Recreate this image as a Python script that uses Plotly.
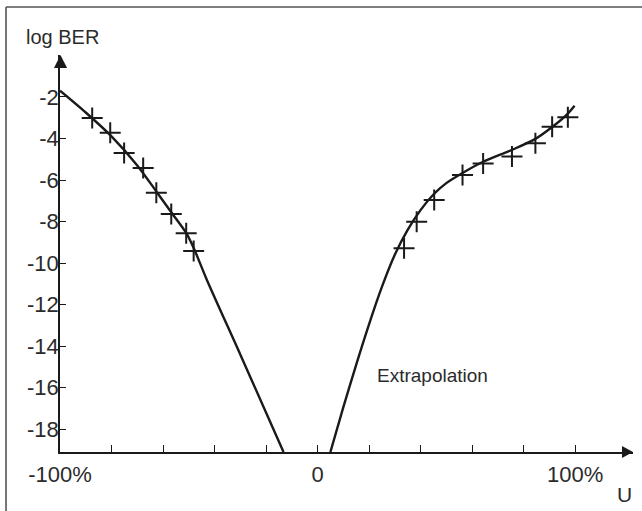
import plotly.graph_objects as go

# Fitted curves (U in %, log BER)
left_curve_u = [-100, -90, -80, -70, -62.6, -56.8, -51, -48, -43, -30, -20, -13.2]
left_curve_ber = [-1.7, -2.75, -3.9, -5.3, -6.55, -7.55, -8.55, -9.3, -10.8, -14.4, -17.2, -19.1]

right_curve_u = [5, 10, 15, 20, 25, 30, 35, 40, 45, 50, 56.3, 64.3, 75.5, 84.6, 91.1, 97.2, 99.8]
right_curve_ber = [-19.1, -16.95, -14.9, -12.95, -11.15, -9.6, -8.4, -7.45, -6.7, -6.15, -5.66, -5.12, -4.55, -4.02, -3.45, -2.8, -2.42]

# Measured points
left_meas_u = [-87.5, -80.5, -75.1, -67.7, -62.6, -56.8, -51.0, -48.1]
left_meas_ber = [-3.01, -3.73, -4.70, -5.42, -6.61, -7.64, -8.57, -9.42]

right_meas_u = [33.6, 38.5, 45.3, 56.3, 64.3, 75.5, 84.6, 91.1, 97.2]
right_meas_ber = [-9.29, -8.01, -6.96, -5.76, -5.20, -4.87, -4.23, -3.43, -2.98]

y_ticks = [-2, -4, -6, -8, -10, -12, -14, -16, -18]
y_tick_text = ["-2", "-4", "-6", "-8", "-10", "-12", "-14", "-16", "-18"]
x_ticks = [-100, -80, -60, -40, -20, 0, 20, 40, 60, 80, 100]
x_tick_text = ["-100%", "", "", "", "", "0", "", "", "", "", "100%"]

INK = "#1a1a1a"
TXT = "#2b2b2b"
FONT = "Liberation Sans, Arial, sans-serif"

fig = go.Figure()
for cu, cb in [(left_curve_u, left_curve_ber), (right_curve_u, right_curve_ber)]:
    fig.add_trace(go.Scatter(x=cu, y=cb, mode="lines",
                             line=dict(color=INK, width=2.4, shape="spline", smoothing=0.8),
                             showlegend=False, hoverinfo="skip"))
for mu, mb in [(left_meas_u, left_meas_ber), (right_meas_u, right_meas_ber)]:
    fig.add_trace(go.Scatter(x=mu, y=mb, mode="markers",
                             marker=dict(symbol="cross-thin", size=15,
                                         line=dict(color=INK, width=2)),
                             showlegend=False, cliponaxis=False))

fig.update_layout(
    template="none",
    width=642, height=511,
    margin=dict(l=60, r=9, t=55, b=59, autoexpand=False),
    paper_bgcolor="white", plot_bgcolor="white",
    font=dict(family=FONT, color=TXT, size=22),
    xaxis=dict(range=[-100, 122.5], showgrid=False, zeroline=False, automargin=False,
               showline=True, linecolor=INK, linewidth=1.8,
               tickmode="array", tickvals=x_ticks, ticktext=x_tick_text,
               ticks="inside", ticklen=7, tickwidth=1.3, tickcolor=INK,
               ticklabelstandoff=2,
               tickfont=dict(size=22, color=TXT, family=FONT)),
    yaxis=dict(range=[-19.1, 0.02], showgrid=False, zeroline=False, automargin=False,
               showline=True, linecolor=INK, linewidth=1.8,
               tickmode="array", tickvals=y_ticks, ticktext=y_tick_text,
               ticks="inside", ticklen=6, tickwidth=1.3, tickcolor=INK,
               ticklabelstandoff=-5,
               tickfont=dict(size=22, color=TXT, family=FONT)),
    shapes=[
        # arrowheads
        dict(type="path", xref="paper", yref="paper",
             path="M 1.0 0 L 0.9808 0.0151 L 0.9808 -0.0151 Z",
             fillcolor=INK, line=dict(width=0)),
        dict(type="path", xref="paper", yref="paper",
             path="M 0.0009 1.0 L -0.0105 0.967 L 0.0123 0.967 Z",
             fillcolor=INK, line=dict(width=0)),
        # frame (top and left edges)
        dict(type="line", xref="paper", yref="paper",
             x0=-0.0942, x1=1.02, y0=1.1209, y1=1.1209,
             line=dict(color="#555555", width=1.6)),
        dict(type="line", xref="paper", yref="paper",
             x0=-0.0942, x1=-0.0942, y0=1.1209, y1=-0.16,
             line=dict(color="#555555", width=1.6)),
    ],
    annotations=[
        dict(x=0.0035, y=1.045, xref="paper", yref="paper", text="log BER", showarrow=False,
             xanchor="center", yanchor="middle",
             font=dict(size=20, color=TXT, family=FONT)),
        dict(x=44.7, y=-15.4, xref="x", yref="y", text="Extrapolation", showarrow=False,
             xanchor="center", yanchor="middle",
             font=dict(size=19, color=TXT, family=FONT)),
        dict(x=0.986, y=-0.106, xref="paper", yref="paper", text="U", showarrow=False,
             xanchor="center", yanchor="middle",
             font=dict(size=21, color=TXT, family=FONT)),
    ],
)

fig.write_html("out.html", config={"displayModeBar": False},
               post_script="document.body.style.margin='0';")
